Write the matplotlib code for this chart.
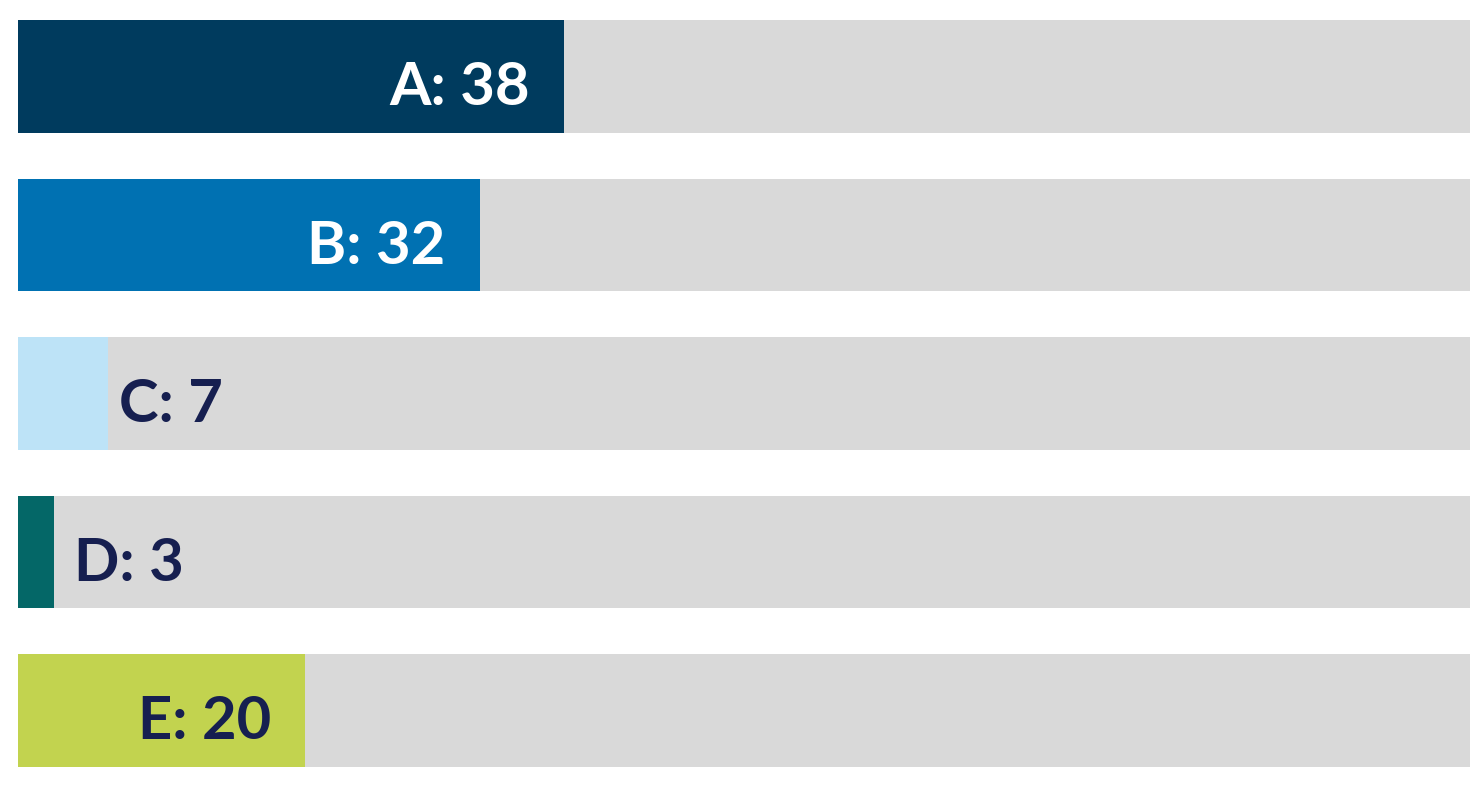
import matplotlib
matplotlib.use("Agg")
import matplotlib.pyplot as plt

categories = ["A", "B", "C", "D", "E"]
label_values = [38, 32, 7, 3, 20]
bar_lengths = [37.6, 31.8, 6.2, 2.5, 19.8]
axis_max = 100
bar_colors = ["#003b5e", "#0071b2", "#bde3f7", "#046767", "#c2d34f"]
label_inside = [True, True, False, False, True]

W, H, DPI = 1470, 792, 100
fig = plt.figure(figsize=(W / DPI, H / DPI), dpi=DPI)
fig.patch.set_facecolor("white")

h = 0.711
left_px, right_px = 18, 1470
top_px, bot_px = 20, 766.7
ax = fig.add_axes([left_px / W, (H - bot_px) / H, (right_px - left_px) / W, (bot_px - top_px) / H])
ax.set_xlim(0, axis_max)
n = len(categories)
ax.set_ylim(n - 1 + h / 2, -h / 2)
ax.axis("off")

ys = list(range(n))
ax.barh(ys, [axis_max] * n, height=h, color="#d9d9d9", linewidth=0)
ax.barh(ys, bar_lengths, height=h, color=bar_colors, linewidth=0)

outside_offsets = {2: 11, 3: 20}
for i, (cat, v, L, inside) in enumerate(zip(categories, label_values, bar_lengths, label_inside)):
    txt = f"{cat}: {v}"
    if inside:
        color = "white" if i < 2 else "#161f50"
        ax.annotate(txt, xy=(L, i), xytext=(-34, -29), textcoords="offset pixels",
                    ha="right", va="baseline", color=color, fontsize=43,
                    family="Lato", fontweight="bold")
    else:
        ax.annotate(txt, xy=(L, i), xytext=(outside_offsets.get(i, 14), -29), textcoords="offset pixels",
                    ha="left", va="baseline", color="#161f50", fontsize=43,
                    family="Lato", fontweight="bold")

fig.savefig("out.png", dpi=DPI, facecolor="white")
